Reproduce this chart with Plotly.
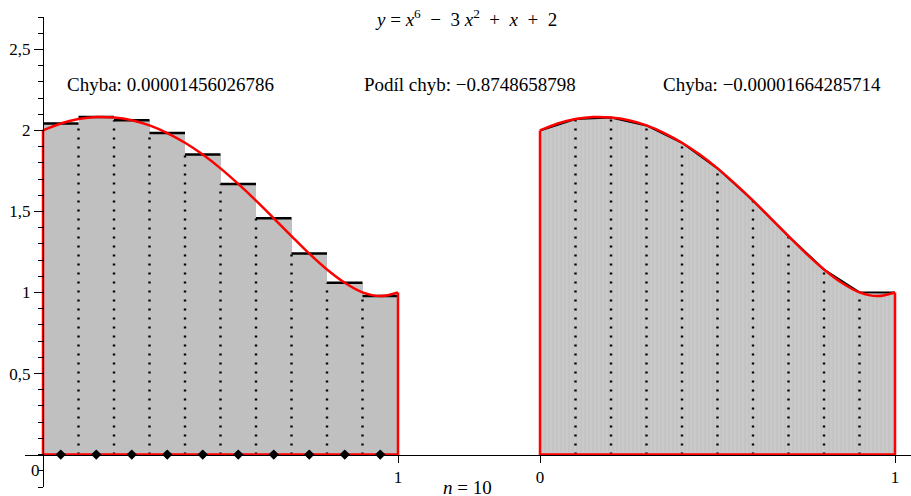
import plotly.graph_objects as go

# ---------------- data ----------------
# function y = x^6 - 3x^2 + x + 2 sampled on [0, 1]
curve_x = [0.0, 0.05, 0.1, 0.15, 0.2, 0.25, 0.3, 0.35, 0.4, 0.45, 0.5,
           0.55, 0.6, 0.65, 0.7, 0.75, 0.8, 0.85, 0.9, 0.95, 1.0]
curve_y = [2.000, 2.043, 2.070, 2.083, 2.080, 2.063, 2.031, 1.984, 1.924, 1.851, 1.766,
           1.670, 1.567, 1.458, 1.348, 1.240, 1.142, 1.060, 1.001, 0.978, 1.000]

# midpoint rectangles (n = 10)
mid_x = [0.05, 0.15, 0.25, 0.35, 0.45, 0.55, 0.65, 0.75, 0.85, 0.95]
mid_h = [2.043, 2.083, 2.063, 1.984, 1.851, 1.670, 1.458, 1.240, 1.060, 0.978]

# trapezoid nodes (n = 10)
node_x = [0.0, 0.1, 0.2, 0.3, 0.4, 0.5, 0.6, 0.7, 0.8, 0.9, 1.0]
node_y = [2.000, 2.070, 2.080, 2.031, 1.924, 1.766, 1.567, 1.348, 1.142, 1.001, 1.000]

y_tick_vals = [0.5, 1, 1.5, 2, 2.5]
y_tick_text = ["0,5", "1", "1,5", "2", "2,5"]
x_tick_vals = [1, 1.4, 2.4]
x_tick_text = ["1", "0", "1"]

title_text = ("<i>y</i> = <i>x</i><sup>6</sup>  −  3 <i>x</i><sup>2</sup>  +  <i>x</i>  +  2")
err_left = "Chyba: 0.00001456026786"
err_ratio = "Podíl chyb: −0.8748658798"
err_right = "Chyba: −0.00001664285714"
n_text = "<i>n</i> = 10"

OFFSET = 1.4  # horizontal shift of the right panel

# ---------------- layout geometry ----------------
W, H = 911, 496
ML, MR, MT, MB = 25, 0, 17, 9
PW, PH = W - ML - MR, H - MT - MB


def px(x):
    return (x - ML) / PW


def py(y):
    return (H - MB - y) / PH


FONT = "Liberation Serif"
RED = "#ff0000"

fig = go.Figure()

# ---- left panel: midpoint rectangles ----
fig.add_trace(go.Bar(x=mid_x, y=mid_h, width=0.1, marker=dict(color="#c0c0c0", line=dict(width=0)),
                     showlegend=False, hoverinfo="skip"))

# dotted separators (up to lower of neighbouring rectangles)
dx, dy = [], []
for i in range(len(mid_x) - 1):
    xb = (mid_x[i] + mid_x[i + 1]) / 2
    dx += [xb, xb, None]
    dy += [0, min(mid_h[i], mid_h[i + 1]), None]
fig.add_trace(go.Scatter(x=dx, y=dy, mode="lines", line=dict(color="black", width=2.4, dash="2px,7px"),
                         showlegend=False, hoverinfo="skip"))

# top edges
tx, ty = [], []
for xm, hm in zip(mid_x, mid_h):
    tx += [xm - 0.05, xm + 0.05, None]
    ty += [hm, hm, None]
fig.add_trace(go.Scatter(x=tx, y=ty, mode="lines", line=dict(color="black", width=2.5),
                         showlegend=False, hoverinfo="skip"))

# ---- right panel: trapezoids ----
rx = [OFFSET + v for v in node_x]
fig.add_trace(go.Scatter(x=rx, y=node_y, mode="lines", fill="tozeroy",
                         fillcolor="#c6c6c6",
                         fillpattern=dict(shape="|", bgcolor="#c4c4c4", fgcolor="#d0d0d0", size=4, solidity=0.4),
                         line=dict(color="black", width=2),
                         showlegend=False, hoverinfo="skip"))
ddx, ddy = [], []
for xv, yv in zip(rx[1:-1], node_y[1:-1]):
    ddx += [xv, xv, None]
    ddy += [0, yv, None]
fig.add_trace(go.Scatter(x=ddx, y=ddy, mode="lines", line=dict(color="black", width=2.4, dash="2px,7px"),
                         showlegend=False, hoverinfo="skip"))

# ---- red function outlines ----
for off in (0.0, OFFSET):
    fig.add_trace(go.Scatter(x=[off + v for v in curve_x], y=curve_y, mode="lines",
                             line=dict(color=RED, width=2.5, shape="spline"),
                             showlegend=False, hoverinfo="skip"))
    fig.add_trace(go.Scatter(x=[off + curve_x[0], off + curve_x[0], off + curve_x[-1], off + curve_x[-1]],
                             y=[curve_y[0], 0, 0, curve_y[-1]], mode="lines",
                             line=dict(color=RED, width=2.5),
                             showlegend=False, hoverinfo="skip"))

# midpoint markers
fig.add_trace(go.Scatter(x=mid_x, y=[0] * len(mid_x), mode="markers",
                         marker=dict(symbol="diamond", size=8, color="black"),
                         showlegend=False, hoverinfo="skip", cliponaxis=False))

# ---------------- axes ----------------
x0 = (ML - 43) / 355
x1 = (W - MR - 43) / 355
fig.update_xaxes(range=[x0, x1], showgrid=False, zeroline=False, showline=True, linecolor="black",
                 linewidth=1, anchor="free", position=py(455), tickmode="array",
                 tickvals=x_tick_vals, ticktext=x_tick_text, ticks="outside", ticklen=7,
                 tickcolor="black", tickfont=dict(family=FONT, size=17, color="black"))
fig.update_yaxes(range=[-0.2, 2.7], showgrid=False, zeroline=False, showline=True, linecolor="black",
                 linewidth=1, anchor="free", position=px(43), tickmode="array",
                 tickvals=y_tick_vals, ticktext=y_tick_text, ticks="outside", ticklen=9,
                 tickcolor="black", tickfont=dict(family=FONT, size=17, color="black"),
                 minor=dict(tickmode="linear", tick0=0, dtick=0.1, ticks="outside", ticklen=5,
                            tickcolor="black"))

# ---------------- texts ----------------
ann = [
    dict(text=title_text, x=px(466), y=py(18), xanchor="center", yanchor="middle", size=19),
    dict(text=err_left, x=px(65), y=py(84), xanchor="left", yanchor="middle", size=19),
    dict(text=err_ratio, x=px(362), y=py(84), xanchor="left", yanchor="middle", size=19),
    dict(text=err_right, x=px(661), y=py(84), xanchor="left", yanchor="middle", size=19),
    dict(text="0", x=px(35), y=py(470), xanchor="center", yanchor="middle", size=17),
    dict(text=n_text, x=px(467), y=py(487), xanchor="center", yanchor="middle", size=19),
]
for a in ann:
    fig.add_annotation(text=a["text"], x=a["x"], y=a["y"], xref="paper", yref="paper",
                       xanchor=a["xanchor"], yanchor=a["yanchor"], showarrow=False,
                       font=dict(family=FONT, size=a["size"], color="black"))

fig.update_layout(width=W, height=H, margin=dict(l=ML, r=MR, t=MT, b=MB),
                  plot_bgcolor="white", paper_bgcolor="white", bargap=0, showlegend=False)

fig.write_html("out.html", config={"displayModeBar": False},
               post_script="document.body.style.margin='0px';")
